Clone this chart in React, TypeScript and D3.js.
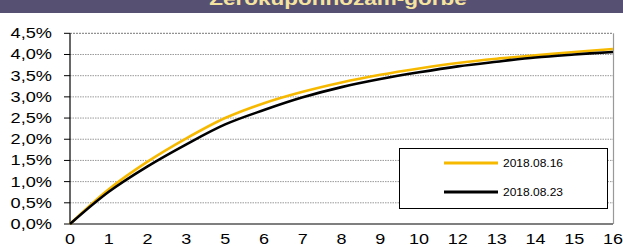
import React from 'react';
import * as d3 from 'd3';

const maturities = ['0', '1', '2', '3', '5', '6', '7', '8', '9', '10', '12', '13', '14', '15', '16'];
const yield0816 = [0, 0.82, 1.47, 2.02, 2.5, 2.85, 3.12, 3.34, 3.52, 3.67, 3.8, 3.9, 3.98, 4.06, 4.13];
const yield0823 = [0, 0.76, 1.36, 1.88, 2.35, 2.69, 2.99, 3.23, 3.42, 3.58, 3.72, 3.83, 3.93, 4.0, 4.06];
const yTicks = [0, 0.5, 1, 1.5, 2, 2.5, 3, 3.5, 4, 4.5];
const seriesNames = ['2018.08.16', '2018.08.23'];
const seriesColors = ['#f7b900', '#000000'];
const title = 'Zérókuponhozam-görbe';

const W = 623;
const H = 247;
const font = "'Liberation Sans', Arial, sans-serif";

const App: React.FC = () => {
  const x = d3.scalePoint<string>().domain(maturities).range([70, 613]);
  const y = d3.scaleLinear().domain([0, 4.5]).range([224, 33.3]);
  const fmt = (v: number) => v.toFixed(1).replace('.', ',') + '%';

  const line = d3.line<number>()
    .x((_, i) => x(maturities[i]) || 0)
    .y(d => y(d))
    .curve(d3.curveCatmullRom.alpha(0.5));

  const series = [yield0816, yield0823];

  return (
    <svg width={W} height={H} style={{ position: 'absolute', left: 0, top: 0 }} fontFamily={font}>
      <rect x={0} y={0} width={W} height={H} fill="#fff" />
      {/* banner, title cut by the top edge as in the source */}
      <rect x={0} y={0} width={W} height={13} fill="#565073" />
      <text transform={`translate(338,5) scale(1.25,1)`} textAnchor="middle" fontSize={18}
        fontWeight="bold" fill="#f5e4a0">{title}</text>

      {/* grid */}
      {yTicks.filter(t => t > 0).map(t => (
        <line key={t} x1={70} x2={613} y1={y(t)} y2={y(t)}
          stroke={t === 4.5 ? '#777' : '#999'} strokeWidth={1}
          strokeDasharray={t === 4.5 ? '2,1' : '1.5,1'} />
      ))}
      <line x1={613.5} x2={613.5} y1={y(4.5)} y2={y(0)} stroke="#999" strokeWidth={1.2} />

      {/* y axis */}
      <line x1={70} x2={70} y1={y(4.5)} y2={y(0)} stroke="#000" strokeWidth={1.2} />
      {yTicks.map(t => (
        <g key={t}>
          <line x1={64} x2={70} y1={y(t)} y2={y(t)} stroke="#000" strokeWidth={1} />
          <text transform={`translate(52,${y(t) + 5}) scale(1.3,1)`} textAnchor="end"
            fontSize={14} fill="#000">{fmt(t)}</text>
        </g>
      ))}

      {/* x axis */}
      <line x1={70} x2={613} y1={y(0)} y2={y(0)} stroke="#000" strokeWidth={1.2} />
      {maturities.map(m => (
        <text key={m} transform={`translate(${x(m)},244) scale(1.2,1)`} textAnchor="middle"
          fontSize={15} fill="#000">{m}</text>
      ))}

      {/* curves */}
      {series.map((s, i) => (
        <path key={i} d={line(s) || ''} fill="none" stroke={seriesColors[i]} strokeWidth={2.6} />
      ))}

      {/* legend */}
      <rect x={399.5} y={148.5} width={208} height={60} fill="#fff" stroke="#000" strokeWidth={1} />
      {seriesNames.map((n, i) => (
        <g key={n}>
          <line x1={444} x2={498} y1={163 + i * 29} y2={163 + i * 29} stroke={seriesColors[i]} strokeWidth={2.8} />
          <text transform={`translate(503,${167 + i * 29}) scale(1.2,1)`} fontSize={10} fill="#000">{n}</text>
        </g>
      ))}
    </svg>
  );
};

export default App;
